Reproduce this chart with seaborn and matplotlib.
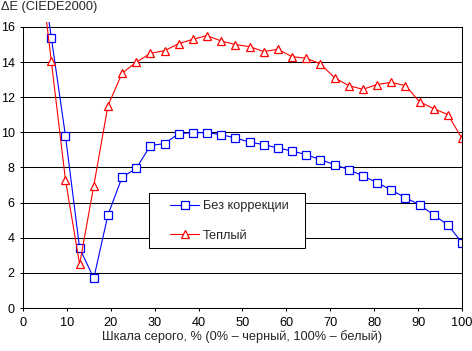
import numpy as np
import pandas as pd
import matplotlib
matplotlib.use("Agg")
import matplotlib.pyplot as plt
import seaborn as sns

# grey scale steps: 32 levels, 0..100 %
step_index = np.arange(1, 32)
gray_pct = step_index * 100 / 31

# values (first point lies above the plotted range)
de_uncorrected = [21.0, 15.4, 9.8, 3.4, 1.7, 5.3, 7.45, 7.95, 9.25, 9.36, 9.93, 9.98,
                  9.98, 9.87, 9.68, 9.45, 9.3, 9.11, 8.94, 8.73, 8.45, 8.16, 7.88,
                  7.52, 7.14, 6.72, 6.28, 5.88, 5.3, 4.73, 3.72]
de_warm = [20.8, 14.05, 7.29, 2.49, 6.97, 11.52, 13.37, 13.99, 14.5, 14.65, 15.05, 15.3,
           15.51, 15.2, 15.0, 14.88, 14.6, 14.73, 14.31, 14.22, 13.9, 13.11, 12.66,
           12.45, 12.72, 12.85, 12.66, 11.75, 11.35, 11.01, 9.66]

label_uncorrected = "Без коррекции"
label_warm = "Теплый"
x_ticks = list(range(0, 101, 10))
y_ticks = list(range(0, 17, 2))

sns.set_theme(style="white")
plt.rcParams['font.family'] = ['Liberation Sans', 'DejaVu Sans']
plt.rcParams['font.size'] = 9

fig = plt.figure(figsize=(4.72, 3.51), dpi=100)
ax = fig.add_axes([0.0487, 0.1225, 0.9301, 0.8157])

sns.lineplot(x=gray_pct, y=de_uncorrected, ax=ax, color="#0000ff", linewidth=0.8,
             marker="s", markersize=5.5, markerfacecolor="white",
             markeredgecolor="#0000ff", markeredgewidth=0.9, label=label_uncorrected)
sns.lineplot(x=gray_pct, y=de_warm, ax=ax, color="#ff0000", linewidth=0.8,
             marker="^", markersize=6.2, markerfacecolor="white",
             markeredgecolor="#ff0000", markeredgewidth=0.9, label=label_warm)

ax.set_xlim(0, 100)
ax.set_ylim(0, 16.3)
ax.set_xticks(x_ticks)
ax.set_yticks(y_ticks)
ax.yaxis.grid(True, color="black", linewidth=0.75)
ax.xaxis.grid(False)
ax.set_axisbelow(True)

for side in ["left", "right", "bottom"]:
    ax.spines[side].set_visible(True)
    ax.spines[side].set_color("black")
    ax.spines[side].set_linewidth(0.75)
ax.spines["top"].set_visible(False)
ax.spines["left"].set_bounds(0, 16)
ax.spines["right"].set_bounds(0, 16)

ax.tick_params(axis="x", bottom=True, direction="out", length=2.5, width=0.75,
               color="black", pad=4, labelsize=9.2, labelcolor="black")
ax.tick_params(axis="y", left=True, direction="out", length=2.5, width=0.75,
               color="black", pad=3.5, labelsize=9, labelcolor="black")

ax.set_xlabel("Шкала серого, % (0% – черный, 100% – белый)", fontsize=9.2, labelpad=1)
ax.set_ylabel("")
fig.text(0.002, 0.997, "ΔE (CIEDE2000)", ha="left", va="top", fontsize=9.2)

# legend box drawn separately so its padding can match the reference
ax.add_patch(plt.Rectangle((0.287, 0.21), 156 / 439, 55 / 286.3, transform=ax.transAxes,
                           facecolor="white", edgecolor="black", linewidth=0.75, zorder=5))
leg = ax.legend(loc="center left", bbox_to_anchor=(0.3349, 0.304), frameon=False,
                borderpad=0, borderaxespad=0, handlelength=2.3, handletextpad=0.3,
                labelspacing=1.35, fontsize=9.2)
leg.set_zorder(6)

fig.savefig("out.png", dpi=100)
